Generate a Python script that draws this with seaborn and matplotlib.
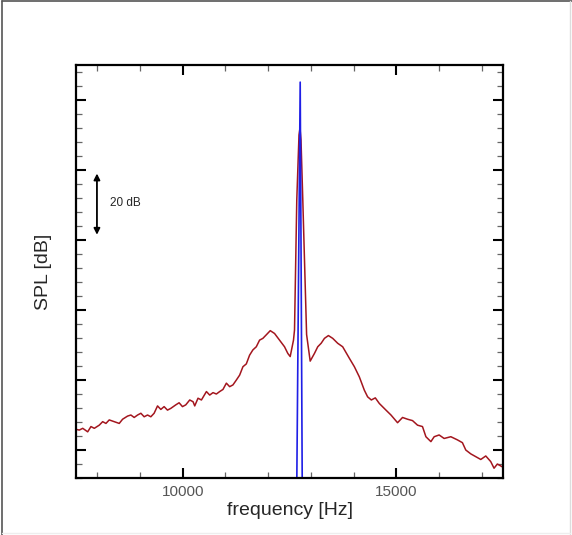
import matplotlib
matplotlib.use("Agg")
import matplotlib.pyplot as plt
from matplotlib.lines import Line2D
from matplotlib.ticker import MultipleLocator, NullFormatter
import seaborn as sns
import pandas as pd

# red spectrum (frequency in Hz, SPL in dB)
red_freq = [7500, 7577, 7657, 7773, 7850, 7928, 8044, 8124, 8201, 8278,
            8395, 8512, 8591, 8708, 8785, 8862, 8942, 9019, 9096, 9175,
            9252, 9329, 9409, 9486, 9563, 9642, 9720, 9836, 9914, 9993,
            10070, 10163, 10241, 10280, 10357, 10437, 10554, 10631, 10708, 10787,
            10864, 10941, 11021, 11098, 11175, 11255, 11332, 11409, 11488, 11565,
            11642, 11722, 11799, 11876, 11955, 12049, 12149, 12266, 12383, 12460,
            12516, 12593, 12617, 12670, 12722, 12745, 12769, 12811, 12900, 12984,
            13084, 13161, 13241, 13318, 13411, 13512, 13628, 13745, 13902, 14019,
            14135, 14252, 14329, 14416, 14509, 14603, 14759, 14876, 15030, 15147,
            15264, 15381, 15498, 15614, 15694, 15811, 15888, 16004, 16121, 16278,
            16432, 16549, 16628, 16745, 16862, 16979, 17096, 17212, 17290, 17367,
            17483]
red_spl = [5.9, 5.7, 6.2, 5.2, 6.7, 6.2, 7.1, 8.1, 7.6, 8.6,
           8.1, 7.6, 8.8, 9.7, 10.0, 9.3, 10.0, 10.5, 9.5, 10.0,
           9.5, 10.5, 12.6, 11.6, 12.4, 11.4, 11.9, 12.9, 13.5, 12.4,
           12.9, 14.3, 13.8, 12.6, 14.8, 14.3, 16.7, 15.7, 16.4, 16.0,
           16.7, 17.3, 19.1, 18.1, 18.6, 20.0, 21.4, 23.8, 24.6, 27.1,
           28.6, 29.5, 31.4, 31.9, 32.9, 34.1, 33.3, 31.4, 29.5, 27.6,
           26.7, 31.4, 34.3, 71.4, 90.0, 92.0, 88.6, 71.4, 33.0, 25.4,
           27.6, 29.5, 30.5, 31.9, 32.7, 31.9, 30.5, 29.5, 26.2, 23.8,
           20.9, 17.1, 15.2, 14.3, 14.9, 13.3, 11.4, 10.0, 7.8, 9.3,
           8.8, 8.4, 7.1, 6.7, 3.8, 2.4, 3.8, 4.3, 3.3, 3.8,
           2.9, 2.1, 0.0, -1.1, -1.9, -2.7, -1.7, -3.3, -5.2, -4.0,
           -4.8]

# blue tonal peak
blue_freq = [12663, 12750, 12802]
blue_spl = [-20, 105.1, -20]

red = pd.DataFrame({"f": red_freq, "spl": red_spl})
blue = pd.DataFrame({"f": blue_freq, "spl": blue_spl})

sns.set_style("white", {
    "xtick.direction": "in", "ytick.direction": "in",
    "xtick.bottom": True, "xtick.top": True,
    "ytick.left": True, "ytick.right": True,
})
plt.rcParams["font.family"] = ["Liberation Sans", "DejaVu Sans"]
plt.rcParams["xtick.minor.visible"] = True
plt.rcParams["ytick.minor.visible"] = True

fig = plt.figure(figsize=(5.72, 5.35), dpi=100)
ax = fig.add_axes([0.1329, 0.1065, 0.7465, 0.772])

sns.lineplot(data=red, x="f", y="spl", ax=ax, color="#a3161e", lw=1.1,
             sort=False, estimator=None)
sns.lineplot(data=blue, x="f", y="spl", ax=ax, color="#1f1fe6", lw=1.2,
             sort=False, estimator=None)

ax.set_xlim(7500, 17500)
ax.set_ylim(-8, 110)

ax.xaxis.set_major_locator(MultipleLocator(5000))
ax.xaxis.set_minor_locator(MultipleLocator(1000))
ax.yaxis.set_major_locator(MultipleLocator(20))
ax.yaxis.set_minor_locator(MultipleLocator(4))
ax.yaxis.set_major_formatter(NullFormatter())
ax.yaxis.set_minor_formatter(NullFormatter())
ax.xaxis.set_minor_formatter(NullFormatter())

ax.tick_params(which="major", direction="in", length=7, width=1.5,
               color="black", labelsize=11, labelcolor="#555555", pad=5,
               top=True, right=True, bottom=True, left=True)
ax.tick_params(which="minor", direction="in", length=4, width=0.9,
               color="#666666", top=True, right=True, bottom=True, left=True)

for s in ax.spines.values():
    s.set_linewidth(1.6)
    s.set_color("black")

ax.set_xlabel("frequency [Hz]", fontsize=14, labelpad=2)
ax.set_ylabel("SPL [dB]", fontsize=14, labelpad=12)

# 20 dB scale arrow
ax.annotate("", xy=(7990, 79), xytext=(7990, 61.5),
            arrowprops=dict(arrowstyle="<|-|>", color="black", lw=1.3,
                            mutation_scale=9, shrinkA=0, shrinkB=0))
ax.text(8290, 70.5, "20 dB", fontsize=8.5, va="center", ha="left")

# outer frame
fig.add_artist(Line2D([0.0035, 0.0035], [0.0, 0.998], color="#555555", lw=1.2,
                      transform=fig.transFigure))
fig.add_artist(Line2D([0.0035, 1.0], [0.998, 0.998], color="#555555", lw=1.2,
                      transform=fig.transFigure))
fig.add_artist(Line2D([0.997, 0.997], [0.0, 0.998], color="#dddddd", lw=1.0,
                      transform=fig.transFigure))
fig.add_artist(Line2D([0.0035, 0.997], [0.004, 0.004], color="#eeeeee", lw=1.0,
                      transform=fig.transFigure))

fig.savefig("out.png", dpi=100)
